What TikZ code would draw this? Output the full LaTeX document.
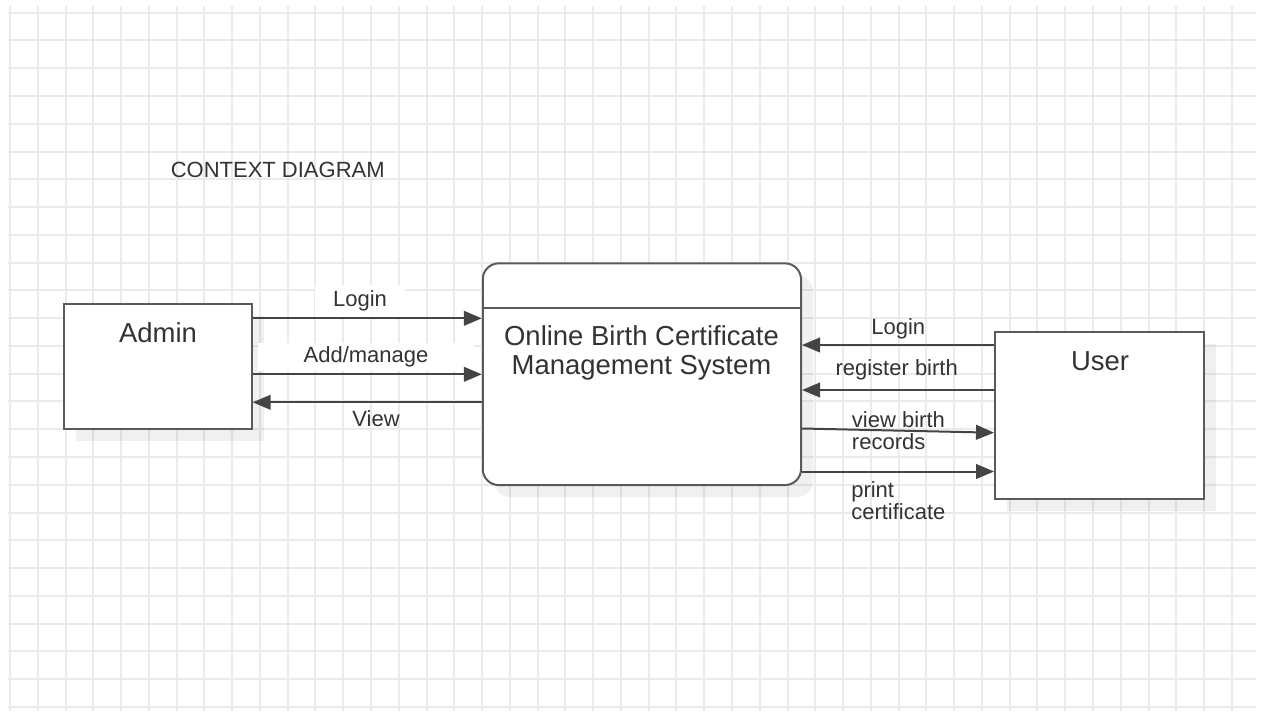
\documentclass[tikz,border=0pt]{standalone}
\usepackage{fontspec}
\setmainfont{Liberation Sans}
\usetikzlibrary{arrows.meta}
\definecolor{gridline}{HTML}{EBEBEB}
\definecolor{boxline}{HTML}{5A5A5A}
\definecolor{flowline}{HTML}{444444}
\definecolor{inktext}{HTML}{333333}
\tikzset{
  entity/.style={draw=boxline, line width=1.5pt, fill=white, inner sep=0pt},
  flow/.style={draw=flowline, line width=1.5pt, -{Triangle[length=13.5pt,width=11pt]}},
  bigtext/.style={inner sep=0pt, text=inktext, font=\fontsize{20.6}{21.75}\selectfont},
  flowtext/.style={inner sep=0pt, text=inktext, font=\fontsize{16.5}{16.5}\selectfont},
  boxshadow/.style={fill=black, fill opacity=0.06, draw=none}
}
\begin{document}
\begin{tikzpicture}[x=0.75pt,y=0.75pt,yscale=-1,xscale=1]
        \useasboundingbox (0,0) rectangle (1261,711);
        \fill[white] (0,0) rectangle (1261,711);

        %Shape: Grid
        \foreach \gx in {0,...,44}
            \draw[gridline, line width=1.5pt] ({10+27.77*\gx},6) -- ({10+27.77*\gx},711);
        \foreach \gy in {0,...,25}
            \draw[gridline, line width=1.5pt] (8,{12.7+27.77*\gy}) -- (1256,{12.7+27.77*\gy});

        %Shape: Shadows
        \fill[boxshadow] (76,316) rectangle (264,441);
        \fill[boxshadow, rounded corners=12pt] (494,275) rectangle (813,497);
        \fill[boxshadow] (1007,344) rectangle (1216,511);

        %Shape: Rectangle [admin]
        \node[entity, minimum width=140.5pt, minimum height=93.5pt] (admin) at (158,366.7) {};
        %Shape: Rounded Rectangle [sys]
        \node[entity, rounded corners=12pt, minimum width=238.7pt, minimum height=166.3pt] (sys) at (641.9,374.2) {};
        \draw[boxline, line width=1.5pt] (sys.west |- 0,308.3) -- (sys.east |- 0,308.3);
        %Shape: Rectangle [user]
        \node[entity, minimum width=157pt, minimum height=125.25pt] (user) at (1099.7,415.5) {};

        % Text Node
        \node[flowtext, anchor=base west] (title) at (170.5,177.7) {CONTEXT DIAGRAM};
        % Text Node
        \node[bigtext, anchor=base] (admintitle) at (158,342) {Admin};
        % Text Node
        \node[bigtext, anchor=base] (usertitle) at (1100,370) {User};
        % Text Node
        \node[bigtext, align=center, anchor=north] (systitle) at (641.5,325) {Online Birth Certificate\\Management System};

        % Text Node
        \node[flowtext, anchor=base, fill=white, inner xsep=13.5pt, inner ysep=4pt] (loginadmin) at (360,306.7) {Login};
        % Text Node
        \node[flowtext, anchor=base, fill=white, inner xsep=34pt, inner ysep=3pt] (addmanage) at (366,362.7) {Add/manage};
        % Text Node
        \node[flowtext, anchor=base] (viewadmin) at (376,426.7) {View};
        % Text Node
        \node[flowtext, anchor=base] (loginuser) at (898.3,334.3) {Login};
        % Text Node
        \node[flowtext, anchor=base] (register) at (896.7,375) {register birth};
        % Text Node
        \node[flowtext, align=left, anchor=north west] (viewrecords) at (851.7,411.5) {view birth\\records};
        % Text Node
        \node[flowtext, align=left, anchor=north west] (printcert) at (851,481) {print\\certificate};

        %Straight Lines
        \draw[flow] (admin.east |- 0,318.3) -- (sys.west |- 0,318.3);
        \draw[flow] (admin.east |- 0,374.3) -- (sys.west |- 0,374.3);
        \draw[flow] (sys.west |- 0,402.3) -- (admin.east |- 0,402.3);
        \draw[flow] (user.west |- 0,345) -- (sys.east |- 0,345);
        \draw[flow] (user.west |- 0,390) -- (sys.east |- 0,390);
        \draw[flow] (sys.east |- 0,428.5) -- (user.west |- 0,432.7);
        \draw[flow] (sys.east |- 0,471.5) -- (user.west |- 0,471.5);

\end{tikzpicture}
\end{document}
